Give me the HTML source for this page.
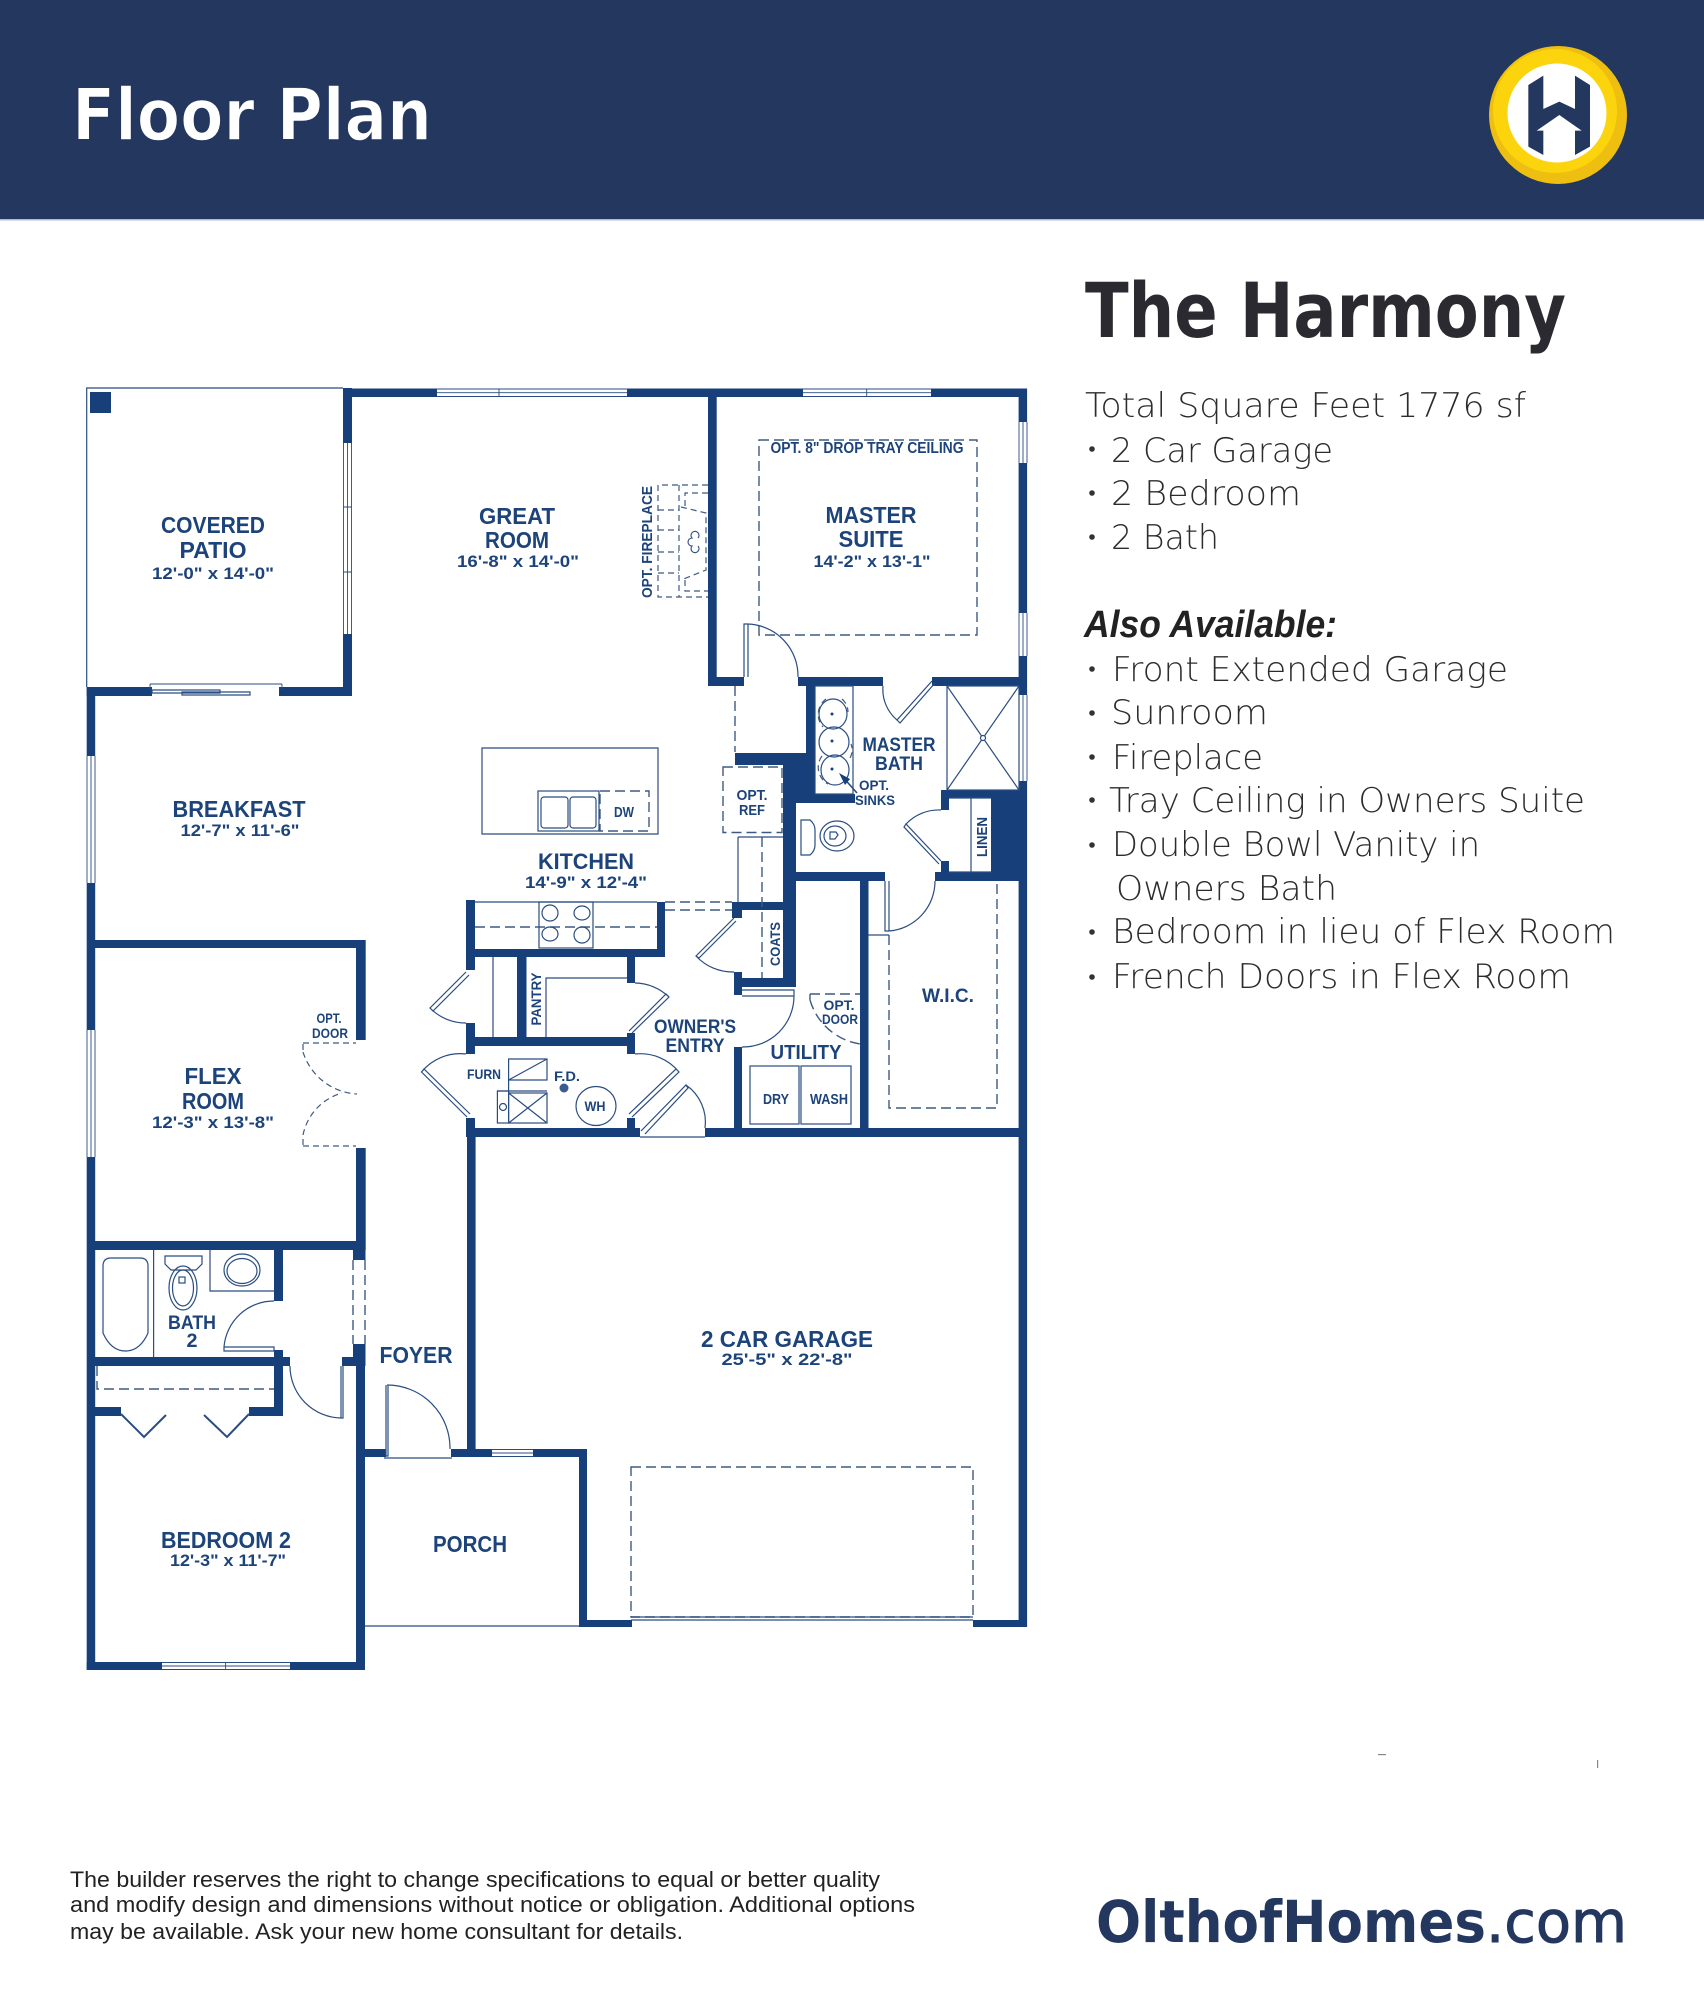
<!DOCTYPE html>
<html lang="en"><head><meta charset="utf-8"><title>The Harmony Floor Plan</title>
<style>
html,body{margin:0;padding:0;background:#fff}
svg{display:block}
.w{fill:#17407a}
.l{fill:none;stroke:#2a4d80;stroke-width:1.2}
.t{fill:none;stroke:#2a4d80;stroke-width:.9}
.d{fill:none;stroke:#3f5a80;stroke-width:1.4;stroke-dasharray:10 5}
.s{fill:none;stroke:#3f5a80;stroke-width:1.2;stroke-dasharray:6 4}
.lb{font-family:"Liberation Sans",sans-serif;font-weight:700;fill:#1c437a;text-anchor:middle}
.r{font-family:"DejaVu Sans ExtraLight","DejaVu Sans","Liberation Sans",sans-serif;font-weight:200;fill:#2c2c2c;font-size:34px}
</style></head><body>
<svg xmlns="http://www.w3.org/2000/svg" width="1704" height="2000" viewBox="0 0 1704 2000">
<rect width="1704" height="2000" fill="#fff"/>
<rect width="1704" height="219" fill="#23375f"/>
<rect y="219" width="1704" height="1.5" fill="#a9bcd8"/>
<text x="72" y="140" textLength="360" lengthAdjust="spacingAndGlyphs" font-family="'DejaVu Sans',sans-serif" font-size="72" font-weight="700" fill="#fff" stroke="#23375f" stroke-width="1.5">Floor Plan</text>

<!-- logo -->
<circle cx="1558" cy="115" r="69" fill="#eebf10"/>
<circle cx="1555" cy="111" r="62" fill="#fbd40e"/>
<circle cx="1557" cy="113" r="49.5" fill="#fff"/>
<g transform="translate(1480 35) scale(.3333)"><path d="M145 150L190 122V222L238 200L285 222V122L330 150V335L285 360V287H305L238 240L170 287H190V360L145 335Z" fill="#23375f"/></g>

<!-- walls -->
<g class="w">
<rect x="343" y="388.5" width="94" height="8.5"/><rect x="627" y="388.5" width="176" height="8.5"/><rect x="931" y="388.5" width="96" height="8.5"/>
<rect x="343" y="388" width="9" height="55"/><rect x="343" y="634" width="9" height="62"/>
<rect x="86.7" y="687" width="65.3" height="9"/><rect x="279" y="687" width="73" height="9"/>
<rect x="86.7" y="687" width="8.5" height="69"/><rect x="86.7" y="883" width="8.5" height="147"/><rect x="86.7" y="1157" width="8.5" height="513"/>
<rect x="90" y="940" width="275" height="8"/><rect x="356" y="940" width="9.7" height="100"/><rect x="356" y="1148" width="9.7" height="102"/>
<rect x="87" y="1241" width="278" height="9"/>
<rect x="353" y="1250" width="12.5" height="10"/><rect x="353" y="1344" width="12.5" height="22"/><rect x="356" y="1366" width="9" height="304"/>
<rect x="86.7" y="1662" width="75.3" height="8"/><rect x="290" y="1662" width="75" height="8"/>
<rect x="274" y="1250" width="9" height="51"/><rect x="274" y="1350" width="9" height="66"/>
<rect x="87" y="1357" width="203" height="9"/>
<rect x="87" y="1407" width="34" height="9"/><rect x="249" y="1407" width="34" height="9"/>
<rect x="342" y="1357" width="14" height="9"/>
<rect x="365" y="1449" width="21" height="8"/><rect x="451" y="1449" width="41" height="8"/><rect x="533" y="1449" width="54" height="8"/>
<rect x="579" y="1449" width="8" height="178"/><rect x="579" y="1620" width="53" height="7"/><rect x="973" y="1620" width="54" height="7"/>
<rect x="1018.6" y="388.5" width="8.5" height="33.5"/><rect x="1018.6" y="463" width="8.5" height="150"/><rect x="1018.6" y="656" width="8.5" height="39"/><rect x="1018.6" y="781" width="8.5" height="846"/>
<rect x="467" y="1128" width="8.6" height="329"/>
<rect x="466" y="1128" width="174" height="9"/><rect x="705" y="1128" width="322" height="9"/>
<rect x="708" y="397" width="8.7" height="289"/><rect x="708" y="677" width="36" height="9"/><rect x="798" y="677" width="85" height="9"/><rect x="932" y="677" width="95" height="9"/>
<rect x="806" y="686" width="9" height="79"/><rect x="735" y="753" width="80" height="12"/>
<rect x="783" y="753" width="13" height="234"/><rect x="783" y="765" width="32" height="29"/>
<rect x="783" y="794" width="72" height="9"/>
<rect x="783" y="872" width="102" height="9"/><rect x="935" y="872" width="92" height="9"/>
<rect x="941" y="790" width="8" height="20"/><rect x="941" y="790" width="86" height="8.5"/><rect x="991" y="790" width="36" height="82"/><rect x="941" y="861" width="8" height="11"/>
<rect x="860" y="881" width="8.5" height="247"/>
<rect x="466" y="900" width="9" height="70"/><rect x="466" y="1023" width="9" height="31"/><rect x="466" y="1118" width="9" height="10"/>
<rect x="466" y="949" width="199" height="8"/><rect x="657" y="902" width="8" height="55"/>
<rect x="517" y="957" width="9.5" height="80"/><rect x="466" y="1037" width="169" height="9"/>
<rect x="627" y="957" width="8" height="26"/><rect x="627" y="1033" width="8" height="21"/><rect x="627" y="1118" width="8" height="10"/>
<rect x="732" y="902" width="60" height="8"/><rect x="732" y="902" width="10" height="16"/>
<rect x="734" y="978" width="58" height="9"/><rect x="734" y="972" width="8" height="23"/>
<rect x="734" y="1047" width="8" height="81"/>
<rect x="90" y="392" width="21" height="21"/>
</g>

<!-- patio outline and porch -->
<path class="l" d="M343 388H86.7V687M365 1626H579"/>

<!-- windows -->
<g class="t">
<path d="M437 389H627M437 392.7H627M437 396.5H627M499 388.5V397"/>
<path d="M803 389H931M803 392.7H931M803 396.5H931M866.7 388.5V397"/>
<path d="M343.5 443V634M347.5 443V634M351.5 443V634M343 507H352M343 572H352"/>
<path d="M1019 422V463M1023 422V463M1027 422V463"/>
<path d="M1019 613V656M1023 613V656M1027 613V656"/>
<path d="M1019 695V781M1023 695V781M1027 695V781"/>
<path d="M87 756V883M91 756V883M95 756V883"/>
<path d="M87 1030V1157M91 1030V1157M95 1030V1157"/>
<path d="M162 1662.5H290M162 1666H290M162 1669.5H290M225.6 1662V1670"/>
<path d="M492 1449.5H533M492 1453H533M492 1456.5H533"/>
<path d="M150 684H282M150 684V690M282 684V690"/>
</g>
<path d="M152 690H220V693H152ZM182 692H250V695H182Z" class="l" fill="#fff"/>

<!-- dashed -->
<g class="d">
<rect x="759" y="440" width="218" height="195"/>
<path d="M735 686V752"/>
<rect x="723" y="767" width="59" height="65.5"/>
<path d="M762 837V978"/>
<rect x="600" y="791" width="49" height="40"/>
<path d="M665 902H732M665 910H732"/>
<path d="M475 927H657"/>
<rect x="631" y="1467" width="342" height="150"/>
<path d="M889 935V1108H997V881"/>
<path d="M97 1366V1389H274"/>
<path d="M353 1260V1344M365 1260V1344"/>
<path d="M810 994H860M810 994V1000M810 1000A62 62 0 0 0 860 1044"/>
</g>
<!-- fireplace -->
<g class="s">
<path d="M708 485H658V597H708M679 485V597M658 510H679M658 530H679M658 552H679M658 573H679"/>
<path d="M708 493H685V507M685 580V591H708M681 507L706 513V570L681 580"/>
</g>
<g class="l">
<path d="M698 538a4 4 0 1 0-6 0a3 3 0 1 0 0 8a4 4 0 1 0 6 0" stroke-width="1.1"/>
</g>
<!-- flex door -->
<g class="s">
<path d="M303 1043H356M303 1044V1052M303 1052A60 60 0 0 0 357 1094"/>
<path d="M303 1146H356M303 1145V1135M303 1135A55 55 0 0 1 342 1093"/>
</g>

<!-- solid fixtures / cabinets -->
<g class="l">
<path d="M482 748H658V834H482Z"/>
<rect x="538" y="791" width="61" height="40"/>
<rect x="541" y="797" width="27" height="31" rx="3"/><rect x="570" y="797" width="26" height="31" rx="3"/>
<path d="M738 837H783M738 837V902"/>
<path d="M475 902H657"/>
<rect x="539" y="902" width="54" height="46"/>
<ellipse cx="550" cy="913" rx="8" ry="8"/><ellipse cx="582" cy="913" rx="8" ry="7"/><ellipse cx="550" cy="934" rx="8" ry="7"/><ellipse cx="582" cy="935" rx="8" ry="8"/>
<path d="M493 957V1037M546 1037V978H627"/>
<path d="M508.6 1059H547V1080H508.6ZM508.6 1080L547 1059"/>
<rect x="508.6" y="1093" width="38.4" height="30"/><path d="M508.6 1093L547 1123M547 1093L508.6 1123"/>
<rect x="497.4" y="1091" width="11.2" height="32"/><circle cx="503" cy="1107" r="3.5"/>
<path d="M508.6 1080V1093M497 1091H547"/>
<ellipse cx="596" cy="1106" rx="20" ry="19.5"/>
<rect x="750" y="1066" width="49" height="58"/><rect x="801" y="1066" width="50" height="58"/>
<path d="M868 935H889"/>
<!-- vanity -->
<rect x="815" y="686" width="38" height="108"/>
<ellipse cx="833" cy="714" rx="14" ry="15"/><ellipse cx="834" cy="742" rx="15" ry="15"/><ellipse cx="835" cy="770" rx="14" ry="15"/>
<!-- shower -->
<rect x="947" y="686" width="72" height="104"/><path d="M947 686L1019 790M1019 686L947 790"/><circle cx="983" cy="738" r="2.5" fill="#fff"/>
<!-- linen -->
<path d="M971 798V872M949 798H991M949 872H991"/>
<!-- master toilet -->
<path d="M801 820H810Q815 824 815 830V845Q815 851 810 855H801Z"/>
<ellipse cx="837" cy="836" rx="17" ry="15"/><ellipse cx="835" cy="836" rx="11" ry="10"/><path d="M830 832H836L838 835L835 839H830Z"/>
<!-- bath 2 -->
<path d="M103 1266Q103 1258 111 1258H140Q148 1258 148 1266V1333Q140 1351 125.500 1351Q111 1351 103 1333Z"/>
<path d="M153.6 1250V1357"/>
<path d="M165 1256H202V1264L196 1270H171L165 1264Z"/>
<ellipse cx="183" cy="1288" rx="14" ry="22"/><ellipse cx="183" cy="1288" rx="10.500" ry="18"/><rect x="179" y="1277" width="6" height="6"/>
<path d="M210 1250V1291H274"/>
<ellipse cx="242" cy="1270" rx="18" ry="16"/><ellipse cx="242" cy="1271" rx="15" ry="12.500"/>
</g>
<g class="s" stroke-dasharray="7 3">
<path d="M826 699A19 19 0 0 0 823 727M842 699A17 17 0 0 1 848 712M822 756A19 19 0 0 0 828 784M850 758A16 16 0 0 0 851 744"/>
</g>
<circle cx="564" cy="1088" r="4.500" fill="#3a5c90"/>
<path d="M841 775L857 793" stroke="#2a4d80" stroke-width="1.6"/><path d="M839 773L850 779L845 785Z" fill="#17407a"/>
<circle cx="832" cy="714" r="1.500" fill="#17407a"/><circle cx="832" cy="741" r="1.500" fill="#17407a"/><circle cx="832" cy="769" r="1.500" fill="#17407a"/>

<!-- doors -->
<g class="l">
<path d="M744 677V624H748V677M748 624A52 52 0 0 1 798 677"/>
<path d="M932 681L897 720L900 723L935 683M897 720A40 40 0 0 1 883 686"/>
<path d="M941 861L906 824L904 827L939 864M906 824A45 45 0 0 1 941 810"/>
<path d="M885 881V931H889V881M889 931A50 50 0 0 0 935 881"/>
<path d="M734 918L696 956L699 958L736 921M696 956A50 50 0 0 0 734 972"/>
<path d="M742 990H794V996H742M794 996A51 51 0 0 1 742 1047"/>
<path d="M466 972L430 1008L433 1011L469 975M430 1008A50 50 0 0 0 466 1023"/>
<path d="M632 1033L669 997L666 994L629 1031M669 997A50 50 0 0 0 635 983"/>
<path d="M467 1117L421.500 1072L424 1069L470 1114M421.500 1072A50 50 0 0 1 466 1054"/>
<path d="M632 1117L679 1072L676 1069L629 1114M679 1072A50 50 0 0 0 635 1054"/>
<path d="M641 1131L686 1085L688 1088L645 1134M686 1085A45 45 0 0 1 705 1128M640 1137H705"/>
<path d="M224 1347H274V1351H224ZM224 1347A50 50 0 0 1 274 1301"/>
<path d="M341 1366V1418H343V1366M341 1418A52 52 0 0 1 290 1366"/>
<path d="M386 1385V1456H388V1385M387 1385A63 63 0 0 1 450 1449M384 1458H452"/>
<path d="M121 1414L144 1437L166 1415M204 1415L227 1437L249 1414" stroke-width="2"/>
<path d="M631 1617H973M631 1620H973" stroke-width="1.3"/>
</g>

<!-- room labels -->
<g class="lb">
<text x="213" y="533" font-size="23" textLength="104" lengthAdjust="spacingAndGlyphs">COVERED</text>
<text x="213" y="558" font-size="23" textLength="67" lengthAdjust="spacingAndGlyphs">PATIO</text>
<text x="213" y="579" font-size="17" textLength="122" lengthAdjust="spacingAndGlyphs">12'-0" x 14'-0"</text>
<text x="517" y="524" font-size="23" textLength="76" lengthAdjust="spacingAndGlyphs">GREAT</text>
<text x="517" y="548" font-size="23" textLength="64" lengthAdjust="spacingAndGlyphs">ROOM</text>
<text x="518" y="567" font-size="17" textLength="122" lengthAdjust="spacingAndGlyphs">16'-8" x 14'-0"</text>
<text x="239" y="817" font-size="23" textLength="133" lengthAdjust="spacingAndGlyphs">BREAKFAST</text>
<text x="240" y="836" font-size="17" textLength="119" lengthAdjust="spacingAndGlyphs">12'-7" x 11'-6"</text>
<text x="871" y="523" font-size="23" textLength="91" lengthAdjust="spacingAndGlyphs">MASTER</text>
<text x="871" y="547" font-size="23" textLength="65" lengthAdjust="spacingAndGlyphs">SUITE</text>
<text x="872" y="567" font-size="17" textLength="117" lengthAdjust="spacingAndGlyphs">14'-2" x 13'-1"</text>
<text x="867" y="453" font-size="16" textLength="193" lengthAdjust="spacingAndGlyphs">OPT. 8" DROP TRAY CEILING</text>
<text transform="translate(652 542) rotate(-90)" font-size="15" textLength="112" lengthAdjust="spacingAndGlyphs">OPT. FIREPLACE</text>
<text x="899" y="751" font-size="19" textLength="73" lengthAdjust="spacingAndGlyphs">MASTER</text>
<text x="899" y="770" font-size="19" textLength="48" lengthAdjust="spacingAndGlyphs">BATH</text>
<text x="874" y="790" font-size="14" textLength="30" lengthAdjust="spacingAndGlyphs">OPT.</text>
<text x="875" y="805" font-size="14" textLength="40" lengthAdjust="spacingAndGlyphs">SINKS</text>
<text x="752" y="800" font-size="15" textLength="31" lengthAdjust="spacingAndGlyphs">OPT.</text>
<text x="752" y="815" font-size="15" textLength="26" lengthAdjust="spacingAndGlyphs">REF</text>
<text x="624" y="817" font-size="15" textLength="20" lengthAdjust="spacingAndGlyphs">DW</text>
<text transform="translate(987 837) rotate(-90)" font-size="15" textLength="40" lengthAdjust="spacingAndGlyphs">LINEN</text>
<text x="586" y="869" font-size="22" textLength="96" lengthAdjust="spacingAndGlyphs">KITCHEN</text>
<text x="586" y="888" font-size="17" textLength="122" lengthAdjust="spacingAndGlyphs">14'-9" x 12'-4"</text>
<text transform="translate(780 944) rotate(-90)" font-size="14" textLength="44" lengthAdjust="spacingAndGlyphs">COATS</text>
<text transform="translate(541 999) rotate(-90)" font-size="14" textLength="53" lengthAdjust="spacingAndGlyphs">PANTRY</text>
<text x="695" y="1033" font-size="19" textLength="82" lengthAdjust="spacingAndGlyphs">OWNER'S</text>
<text x="695" y="1052" font-size="19" textLength="59" lengthAdjust="spacingAndGlyphs">ENTRY</text>
<text x="806" y="1059" font-size="20" textLength="71" lengthAdjust="spacingAndGlyphs">UTILITY</text>
<text x="839" y="1010" font-size="14" textLength="31" lengthAdjust="spacingAndGlyphs">OPT.</text>
<text x="840" y="1024" font-size="14" textLength="36" lengthAdjust="spacingAndGlyphs">DOOR</text>
<text x="776" y="1104" font-size="15" textLength="26" lengthAdjust="spacingAndGlyphs">DRY</text>
<text x="829" y="1104" font-size="15" textLength="38" lengthAdjust="spacingAndGlyphs">WASH</text>
<text x="948" y="1002" font-size="19" textLength="52" lengthAdjust="spacingAndGlyphs">W.I.C.</text>
<text x="484" y="1079" font-size="14" textLength="34" lengthAdjust="spacingAndGlyphs">FURN</text>
<text x="567" y="1081" font-size="14" textLength="26" lengthAdjust="spacingAndGlyphs">F.D.</text>
<text x="595" y="1111" font-size="14" textLength="21" lengthAdjust="spacingAndGlyphs">WH</text>
<text x="329" y="1023" font-size="14" textLength="25" lengthAdjust="spacingAndGlyphs">OPT.</text>
<text x="330" y="1038" font-size="14" textLength="36" lengthAdjust="spacingAndGlyphs">DOOR</text>
<text x="213" y="1084" font-size="23" textLength="57" lengthAdjust="spacingAndGlyphs">FLEX</text>
<text x="213" y="1109" font-size="23" textLength="62" lengthAdjust="spacingAndGlyphs">ROOM</text>
<text x="213" y="1128" font-size="17" textLength="122" lengthAdjust="spacingAndGlyphs">12'-3" x 13'-8"</text>
<text x="192" y="1329" font-size="19" textLength="48" lengthAdjust="spacingAndGlyphs">BATH</text>
<text x="192" y="1347" font-size="19" textLength="11" lengthAdjust="spacingAndGlyphs">2</text>
<text x="416" y="1363" font-size="23" textLength="73" lengthAdjust="spacingAndGlyphs">FOYER</text>
<text x="226" y="1548" font-size="23" textLength="130" lengthAdjust="spacingAndGlyphs">BEDROOM 2</text>
<text x="228" y="1566" font-size="17" textLength="116" lengthAdjust="spacingAndGlyphs">12'-3" x 11'-7"</text>
<text x="470" y="1552" font-size="23" textLength="74" lengthAdjust="spacingAndGlyphs">PORCH</text>
<text x="787" y="1347" font-size="23" textLength="172" lengthAdjust="spacingAndGlyphs">2 CAR GARAGE</text>
<text x="787" y="1365" font-size="17" textLength="131" lengthAdjust="spacingAndGlyphs">25'-5" x 22'-8"</text>
</g>

<!-- right column -->
<text x="1085" y="337" font-family="'DejaVu Sans',sans-serif" font-weight="700" font-size="76" fill="#2a2a30" textLength="481" lengthAdjust="spacingAndGlyphs">The Harmony</text>
<g class="r">
<text x="1085" y="417" textLength="441" lengthAdjust="spacingAndGlyphs">Total Square Feet 1776 sf</text>
<text x="1111" y="462" textLength="222" lengthAdjust="spacingAndGlyphs">2 Car Garage</text>
<text x="1111" y="505" textLength="190" lengthAdjust="spacingAndGlyphs">2 Bedroom</text>
<text x="1111" y="549" textLength="108" lengthAdjust="spacingAndGlyphs">2 Bath</text>
<text x="1084" y="637" font-family="'Liberation Sans',sans-serif" font-weight="700" font-style="italic" font-size="38" textLength="253" lengthAdjust="spacingAndGlyphs" fill="#222">Also Available:</text>
<text x="1112" y="681" textLength="396" lengthAdjust="spacingAndGlyphs">Front Extended Garage</text>
<text x="1111" y="724" textLength="157" lengthAdjust="spacingAndGlyphs">Sunroom</text>
<text x="1112" y="769" textLength="151" lengthAdjust="spacingAndGlyphs">Fireplace</text>
<text x="1109" y="812" textLength="476" lengthAdjust="spacingAndGlyphs">Tray Ceiling in Owners Suite</text>
<text x="1112" y="856" textLength="368" lengthAdjust="spacingAndGlyphs">Double Bowl Vanity in</text>
<text x="1116" y="900" textLength="221" lengthAdjust="spacingAndGlyphs">Owners Bath</text>
<text x="1112" y="943" textLength="503" lengthAdjust="spacingAndGlyphs">Bedroom in lieu of Flex Room</text>
<text x="1112" y="988" textLength="459" lengthAdjust="spacingAndGlyphs">French Doors in Flex Room</text>
</g>
<g fill="#333">
<circle cx="1092" cy="449" r="2.800"/><circle cx="1092" cy="493" r="2.800"/><circle cx="1092" cy="537" r="2.800"/>
<circle cx="1092" cy="669" r="2.800"/><circle cx="1092" cy="713" r="2.800"/><circle cx="1092" cy="757" r="2.800"/><circle cx="1092" cy="800" r="2.800"/><circle cx="1092" cy="845" r="2.800"/><circle cx="1092" cy="932" r="2.800"/><circle cx="1092" cy="977" r="2.800"/>
</g>

<rect x="1378" y="1754" width="8" height="1.200" fill="#888"/><rect x="1597" y="1760" width="1.200" height="8" fill="#888"/>

<!-- footer -->
<g font-family="'Liberation Sans',sans-serif" font-size="22" fill="#222">
<text x="70" y="1887" textLength="810" lengthAdjust="spacingAndGlyphs">The builder reserves the right to change specifications to equal or better quality</text>
<text x="70" y="1912" textLength="845" lengthAdjust="spacingAndGlyphs">and modify design and dimensions without notice or obligation. Additional options</text>
<text x="70" y="1939" textLength="613" lengthAdjust="spacingAndGlyphs">may be available. Ask your new home consultant for details.</text>
</g>
<text x="1096" y="1942" font-family="'DejaVu Sans',sans-serif" font-weight="700" font-size="58" fill="#23375f" textLength="390" lengthAdjust="spacingAndGlyphs">OlthofHomes</text>
<text x="1486" y="1942" font-family="'DejaVu Sans',sans-serif" font-weight="400" font-size="58" fill="#23375f" stroke="#23375f" stroke-width="1" textLength="141" lengthAdjust="spacingAndGlyphs">.com</text>
</svg>
</body></html>
